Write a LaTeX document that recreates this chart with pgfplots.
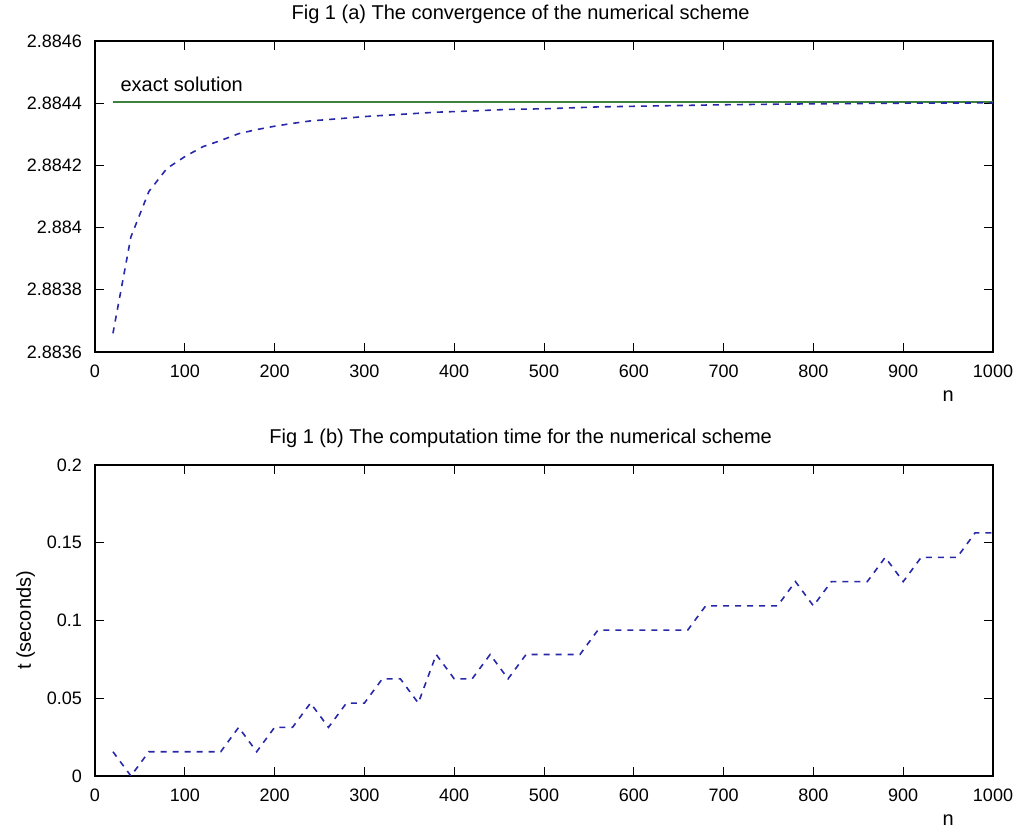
\documentclass[border=0pt]{standalone}
\usepackage{pgfplots}
\pgfplotsset{compat=1.18}
\usepackage{fontspec}
\setmainfont{Liberation Sans}

\definecolor{mblue}{RGB}{40,40,170}
\definecolor{mgreen}{RGB}{60,130,60}

% convergence of the scheme (n, approximation)
\pgfplotstableread{
n    v
20   2.88366
40   2.88397
60   2.884116
80   2.88419
100  2.884228
120  2.88426
140  2.88428
160  2.884302
180  2.884315
200  2.884326
220  2.884335
240  2.884343
280  2.884352
300  2.884357
340  2.884364
380  2.884371
420  2.884375
460  2.88438
500  2.884382
560  2.884388
620  2.884391
700  2.884395
800  2.884398
900  2.8844
1000 2.884401
}\convdata

% computation time (n, seconds)
\pgfplotstableread{
n    t
20   0.0156
40   0
60   0.0156
80   0.0156
100  0.0156
120  0.0156
140  0.0156
160  0.0313
180  0.0156
200  0.0313
220  0.0313
240  0.0469
260  0.0313
280  0.0469
300  0.0469
320  0.0625
340  0.0625
360  0.0469
380  0.0781
400  0.0625
420  0.0625
440  0.0781
460  0.0625
480  0.0781
500  0.0781
520  0.0781
540  0.0781
560  0.0938
580  0.0938
600  0.0938
620  0.0938
640  0.0938
660  0.0938
680  0.1094
700  0.1094
720  0.1094
740  0.1094
760  0.1094
780  0.1250
800  0.1094
820  0.1250
840  0.1250
860  0.1250
880  0.1406
900  0.1250
920  0.1406
940  0.1406
960  0.1406
980  0.1563
1000 0.1563
}\timedata

\pgfplotsset{
  mstyle/.style={
    scale only axis, width=449pt, height=155.5pt,
    xmin=0, xmax=1000, xtick={0,100,...,1000},
    tick align=inside, major tick length=4.5pt,
    tick style={black, line width=0.5pt},
    axis line style={line width=0.6pt},
    tick label style={font=\fontsize{9}{10}\selectfont},
    xticklabel style={yshift=-3pt},
    yticklabel style={xshift=-3pt},
    /pgf/number format/assume math mode=true,
    /pgf/number format/1000 sep={},
    title style={font=\fontsize{10}{12}\selectfont, at={(rel axis cs:0.474,1)}, yshift=-1pt},
    label style={font=\fontsize{10}{12}\selectfont},
    xlabel={n},
    xlabel style={at={(rel axis cs:0.95,0)}, anchor=center, yshift=-22pt},
  }
}

\begin{document}
\begin{tikzpicture}
\path[use as bounding box] (-47.5pt,-28.5pt) rectangle (466pt,388pt);

\begin{axis}[mstyle, at={(0,212pt)},
    ymin=2.8836, ymax=2.8846,
    ytick={2.8836,2.8838,2.884,2.8842,2.8844,2.8846},
    yticklabels={2.8836,2.8838,2.884,2.8842,2.8844,2.8846},
    title={Fig 1 (a) The convergence of the numerical scheme},
    ]
\addplot[mgreen, line width=0.9pt] coordinates {(20,2.884405) (1000,2.884405)};
\addplot[mblue, line width=0.8pt, dash pattern=on 3pt off 3pt] table[x=n, y=v] {\convdata};
\node[anchor=west, inner sep=0pt, font=\fontsize{10}{12}\selectfont] at (axis cs:28,2.88446) {exact solution};
\end{axis}

\begin{axis}[mstyle, at={(0,0)},
    ymin=0, ymax=0.2,
    ytick={0,0.05,0.1,0.15,0.2},
    yticklabels={0,0.05,0.1,0.15,0.2},
    title={Fig 1 (b) The computation time for the numerical scheme},
    ylabel={t (seconds)},
    ylabel style={at={(axis description cs:-0.059,0.5)}, anchor=south},
    ]
\addplot[mblue, line width=0.8pt, dash pattern=on 3pt off 3pt] table[x=n, y=t] {\timedata};
\end{axis}
\end{tikzpicture}
\end{document}
